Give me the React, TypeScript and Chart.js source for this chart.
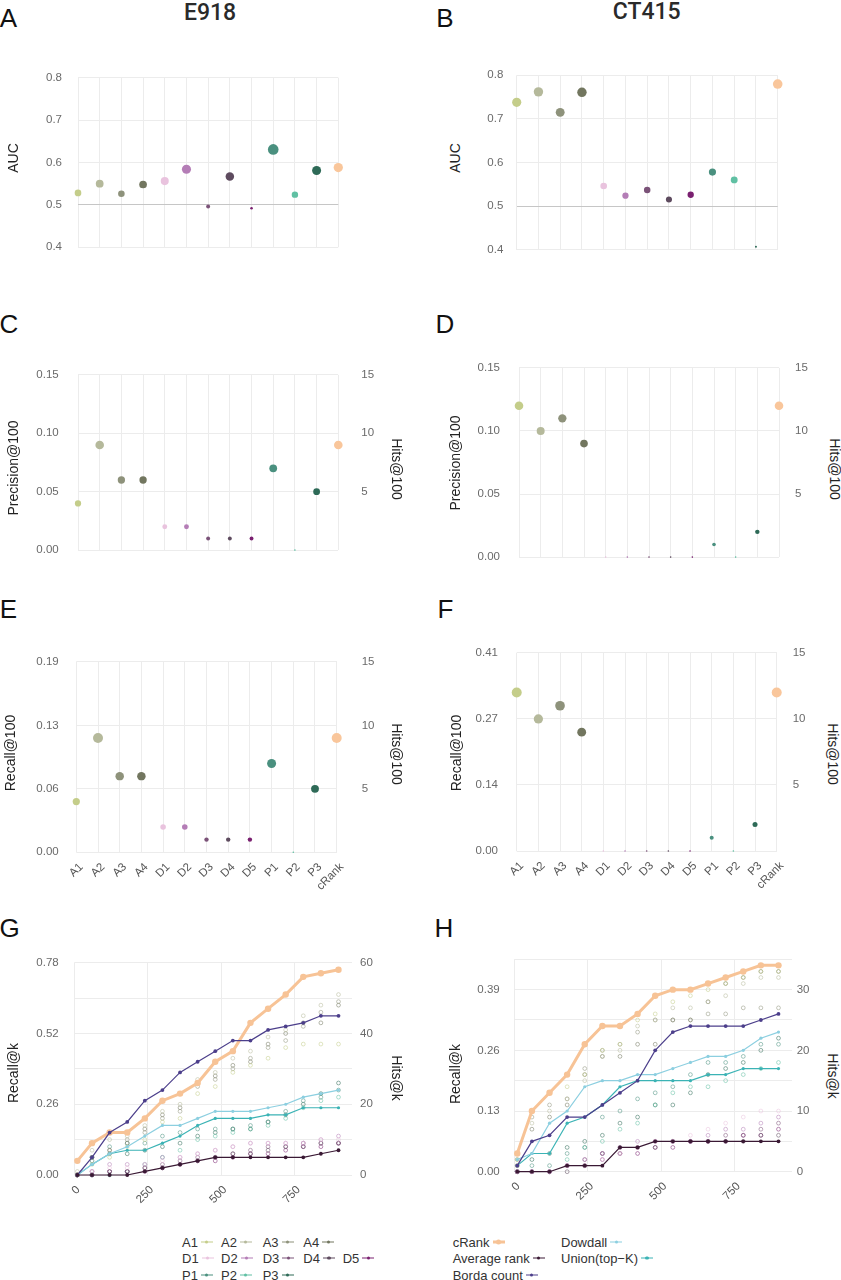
import React, { useEffect, useRef } from 'react';
import { Chart, registerables } from 'chart.js';

Chart.register(...registerables);

const FONT = '"Liberation Sans", Arial, Helvetica, sans-serif';
Chart.defaults.font.family = FONT;

// ---------------- data ----------------
const METHODS = ['A1', 'A2', 'A3', 'A4', 'D1', 'D2', 'D3', 'D4', 'D5', 'P1', 'P2', 'P3', 'cRank'];
const METHOD_COLORS = ['#c4cd8a', '#b5b99b', '#8e927b', '#72765f', '#e9c3de', '#b47db6', '#7b5278', '#5e4b5f', '#7a2070', '#4a907f', '#60c0a3', '#2e6a57', '#f9c69b'];

const AUC_E918 = [0.528, 0.55, 0.526, 0.548, 0.556, 0.584, 0.496, 0.567, 0.492, 0.631, 0.524, 0.581, 0.588];
const AUC_CT415 = [0.738, 0.762, 0.715, 0.761, 0.546, 0.524, 0.537, 0.515, 0.526, 0.578, 0.56, 0.407, 0.78];
const HITS100_E918 = [4, 9, 6, 6, 2, 2, 1, 1, 1, 7, 0, 5, 9];
const HITS100_CT415 = [12, 10, 11, 9, 0, 0, 0, 0, 0, 1, 0, 2, 12];

const AUC_TICKS = [0.4, 0.5, 0.6, 0.7, 0.8];
const AUC_REFERENCE = 0.5;
const HITS100_TICKS = [0, 5, 10, 15];
const PRECISION_TICK_LABELS = ['0.00', '0.05', '0.10', '0.15'];
const RECALL100_TICK_LABELS_E918 = ['0.00', '0.06', '0.13', '0.19'];
const RECALL100_TICK_LABELS_CT415 = ['0.00', '0.14', '0.27', '0.41'];

const K_VALUES = [10, 60, 120, 180, 240, 300, 360, 420, 480, 540, 600, 660, 720, 780, 840, 900];
const K_TICKS = [0, 250, 500, 750];
const K_AXIS_MAX = 945;
const HITSK_TICKS_E918 = [0, 20, 40, 60];
const RECALLK_TICK_LABELS_E918 = ['0.00', '0.26', '0.52', '0.78'];
const HITSK_TICKS_CT415 = [0, 10, 20, 30];
const RECALLK_TICK_LABELS_CT415 = ['0.00', '0.13', '0.26', '0.39'];

// aggregation methods, hits@k  (E918)
const E918_CRANK = [4, 9, 12, 12, 16, 21, 23, 26, 32, 35, 43, 47, 51, 56, 57, 58];
const E918_AVERAGE = [0, 0, 0, 0, 1, 2, 3, 4, 5, 5, 5, 5, 5, 5, 6, 7];
const E918_BORDA = [0, 5, 12, 15, 21, 24, 29, 32, 35, 38, 38, 41, 42, 43, 45, 45];
const E918_DOWDALL = [0, 3, 6, 8, 11, 14, 14, 16, 18, 18, 18, 19, 20, 22, 23, 24];
const E918_UNION = [0, 3, 6, 7, 7, 9, 11, 14, 16, 16, 16, 17, 17, 19, 19, 19];
// individual methods, hits@k (E918)
const E918_A1 = [0, 3, 5, 8, 10, 15, 16, 23, 25, 29, 31, 33, 36, 37, 37, 37];
const E918_A2 = [1, 7, 10, 11, 14, 18, 20, 27, 29, 33, 35, 39, 41, 45, 48, 51];
const E918_A3 = [0, 5, 7, 10, 12, 16, 18, 25, 27, 30, 33, 36, 38, 42, 46, 49];
const E918_A4 = [0, 5, 7, 9, 13, 17, 19, 26, 28, 31, 32, 37, 40, 43, 43, 48];
const E918_D1 = [0, 1, 2, 2, 3, 4, 5, 6, 7, 8, 9, 9, 9, 9, 10, 10];
const E918_D2 = [0, 1, 3, 3, 3, 5, 5, 6, 7, 8, 9, 9, 9, 9, 10, 11];
const E918_D3 = [0, 1, 1, 1, 2, 3, 4, 5, 5, 6, 7, 8, 8, 9, 9, 9];
const E918_D4 = [0, 0, 1, 1, 2, 2, 3, 4, 5, 6, 6, 7, 8, 8, 9, 9];
const E918_D5 = [0, 0, 1, 1, 1, 2, 3, 4, 4, 5, 6, 6, 7, 8, 8, 9];
const E918_P1 = [0, 5, 8, 9, 9, 11, 12, 13, 13, 13, 14, 15, 18, 21, 22, 24];
const E918_P2 = [0, 0, 0, 1, 3, 5, 7, 10, 11, 12, 13, 14, 16, 19, 21, 22];
const E918_P3 = [0, 4, 6, 6, 7, 8, 9, 11, 12, 13, 13, 15, 17, 20, 23, 26];

// aggregation methods, hits@k  (CT415)
const CT415_CRANK = [3, 10, 13, 16, 21, 24, 24, 26, 29, 30, 30, 31, 32, 33, 34, 34];
const CT415_AVERAGE = [0, 0, 0, 1, 1, 1, 4, 4, 5, 5, 5, 5, 5, 5, 5, 5];
const CT415_BORDA = [1, 5, 6, 9, 9, 11, 13, 15, 20, 23, 24, 24, 24, 24, 25, 26];
const CT415_DOWDALL = [2, 3, 8, 10, 14, 15, 15, 16, 16, 17, 18, 19, 19, 20, 22, 23];
const CT415_UNION = [1, 3, 3, 8, 9, 11, 14, 15, 15, 15, 15, 16, 16, 17, 17, 17];
// individual methods, hits@k (CT415)
const CT415_A1 = [2, 10, 13, 14, 16, 20, 21, 25, 26, 28, 29, 30, 31, 32, 33, 33];
const CT415_A2 = [1, 8, 10, 12, 15, 19, 20, 24, 25, 27, 27, 28, 29, 31, 32, 32];
const CT415_A3 = [2, 9, 11, 12, 17, 20, 21, 23, 25, 25, 25, 26, 26, 27, 27, 27];
const CT415_A4 = [1, 7, 9, 11, 16, 19, 19, 21, 21, 25, 25, 28, 31, 32, 33, 33];
const CT415_D1 = [0, 0, 0, 1, 1, 2, 3, 4, 5, 5, 6, 7, 8, 9, 10, 10];
const CT415_D2 = [0, 0, 0, 1, 2, 3, 4, 5, 5, 5, 5, 6, 7, 7, 8, 9];
const CT415_D3 = [0, 0, 0, 1, 2, 3, 3, 4, 5, 5, 5, 5, 6, 6, 7, 8];
const CT415_D4 = [0, 0, 0, 0, 1, 3, 4, 4, 4, 5, 5, 5, 5, 5, 6, 6];
const CT415_D5 = [0, 0, 0, 1, 1, 2, 3, 3, 4, 4, 5, 5, 5, 6, 6, 7];
const CT415_P1 = [0, 1, 1, 3, 4, 9, 10, 12, 13, 14, 16, 18, 18, 19, 21, 21];
const CT415_P2 = [0, 0, 0, 2, 4, 5, 7, 8, 11, 13, 14, 14, 15, 16, 17, 18];
const CT415_P3 = [0, 2, 3, 4, 5, 6, 8, 9, 11, 11, 13, 16, 17, 18, 20, 22];

const E918_METHOD_SERIES = [E918_A1, E918_A2, E918_A3, E918_A4, E918_D1, E918_D2, E918_D3, E918_D4, E918_D5, E918_P1, E918_P2, E918_P3];
const CT415_METHOD_SERIES = [CT415_A1, CT415_A2, CT415_A3, CT415_A4, CT415_D1, CT415_D2, CT415_D3, CT415_D4, CT415_D5, CT415_P1, CT415_P2, CT415_P3];

const AGG_NAMES = ['cRank', 'Average rank', 'Borda count', 'Dowdall', 'Union(top\u2212K)'];
const AGG_COLORS = ['#f7c396', '#3a1934', '#4c3f8b', '#8ccfe0', '#3bb3b5'];

// ---------------- styling ----------------
const GRID = '#ececec';
const REF = '#c6c6c6';
const TICK_COLOR = '#6a6a6a';
const TICK_FONT = { family: FONT, size: 11.5 };

type Box = { l: number; t: number; r: number; b: number };
type CBox = { x: number; y: number; w: number; h: number };

function frame(canvas: CBox, plot: Box) {
  return {
    padTop: plot.t - canvas.y,
    leftW: plot.l - canvas.x,
    bottomH: canvas.y + canvas.h - plot.b,
    rightW: canvas.x + canvas.w - plot.r,
  };
}

function sizeByValue(values: number[], rMin: number, rMax: number) {
  const lo = Math.min(...values);
  const hi = Math.max(...values);
  return values.map((v) => rMin + (rMax - rMin) * Math.sqrt((v - lo) / (hi - lo)));
}

function xCategory(f: any, showX: boolean, xPad: number) {
  return {
    type: 'category',
    offset: false,
    grid: { color: GRID, lineWidth: 1, drawTicks: false },
    border: { display: false },
    ticks: showX
      ? { display: true, autoSkip: false, maxRotation: 45, minRotation: 45, padding: xPad, labelOffset: 5, color: '#555', font: { family: FONT, size: 11.5 } }
      : { display: false },
    afterFit: (s: any) => {
      s.height = f.bottomH;
    },
  };
}

function aucConfig(canvas: CBox, plot: Box, values: number[], rMin: number, rMax: number, leftPad: number) {
  const f = frame(canvas, plot);
  const radii = sizeByValue(values, rMin, rMax);
  return {
    type: 'line',
    data: {
      labels: METHODS,
      datasets: [
        {
          data: values,
          showLine: false,
          pointRadius: radii,
          pointHoverRadius: radii,
          pointBackgroundColor: METHOD_COLORS,
          pointBorderWidth: 0,
          clip: false,
        },
      ],
    },
    options: {
      animation: false,
      responsive: true,
      maintainAspectRatio: false,
      events: [],
      layout: { padding: { top: f.padTop, right: f.rightW, left: 0, bottom: 0 } },
      plugins: { legend: { display: false }, tooltip: { enabled: false } },
      scales: {
        x: xCategory(f, false, 0),
        y: {
          type: 'linear',
          position: 'left',
          min: AUC_TICKS[0],
          max: AUC_TICKS[AUC_TICKS.length - 1],
          afterBuildTicks: (s: any) => {
            s.ticks = AUC_TICKS.map((v) => ({ value: v }));
          },
          grid: {
            drawTicks: false,
            color: (c: any) => (c.tick && Math.abs(c.tick.value - AUC_REFERENCE) < 1e-9 ? REF : GRID),
          },
          border: { display: false },
          ticks: { padding: leftPad, color: TICK_COLOR, font: TICK_FONT, callback: (v: any) => Number(v).toFixed(1) },
          afterFit: (s: any) => {
            s.width = f.leftW;
          },
        },
      },
    },
  };
}

function hitsConfig(
  canvas: CBox,
  plot: Box,
  hits: number[],
  leftLabels: string[],
  rMin: number,
  rMax: number,
  leftPad: number,
  rightPad: number,
  showX: boolean,
  xPad: number
) {
  const f = frame(canvas, plot);
  const radii = sizeByValue(hits, rMin, rMax);
  const setTicks = (s: any) => {
    s.ticks = HITS100_TICKS.map((v) => ({ value: v }));
  };
  return {
    type: 'line',
    data: {
      labels: METHODS,
      datasets: [
        {
          data: hits,
          yAxisID: 'yH',
          showLine: false,
          pointRadius: radii,
          pointHoverRadius: radii,
          pointBackgroundColor: METHOD_COLORS,
          pointBorderWidth: 0,
          clip: false,
        },
      ],
    },
    options: {
      animation: false,
      responsive: true,
      maintainAspectRatio: false,
      events: [],
      layout: { padding: { top: f.padTop, right: 0, left: 0, bottom: 0 } },
      plugins: { legend: { display: false }, tooltip: { enabled: false } },
      scales: {
        x: xCategory(f, showX, xPad),
        yL: {
          type: 'linear',
          position: 'left',
          min: HITS100_TICKS[0],
          max: HITS100_TICKS[HITS100_TICKS.length - 1],
          afterBuildTicks: setTicks,
          grid: { display: false },
          border: { display: false },
          ticks: {
            padding: leftPad,
            color: TICK_COLOR,
            font: TICK_FONT,
            callback: (v: any) => leftLabels[HITS100_TICKS.indexOf(Number(v))] ?? '',
          },
          afterFit: (s: any) => {
            s.width = f.leftW;
          },
        },
        yH: {
          type: 'linear',
          position: 'right',
          min: HITS100_TICKS[0],
          max: HITS100_TICKS[HITS100_TICKS.length - 1],
          afterBuildTicks: setTicks,
          grid: { color: GRID, drawTicks: false },
          border: { display: false },
          ticks: {
            padding: rightPad,
            color: TICK_COLOR,
            font: TICK_FONT,
            callback: (v: any) => (Number(v) === 0 ? '' : String(v)),
          },
          afterFit: (s: any) => {
            s.width = f.rightW;
          },
        },
      },
    },
  };
}

function withAlpha(hex: string, a: number) {
  const n = parseInt(hex.slice(1), 16);
  return `rgba(${(n >> 16) & 255},${(n >> 8) & 255},${n & 255},${a})`;
}

function kConfig(
  canvas: CBox,
  plot: Box,
  agg: number[][],
  methods: number[][],
  hitsTicks: number[],
  leftLabels: string[],
  hitsMax: number,
  gridStep: number,
  leftPad: number,
  rightPad: number,
  xPad: number
) {
  const f = frame(canvas, plot);
  const pts = (arr: number[]) => K_VALUES.map((k, i) => ({ x: k, y: arr[i] }));
  const aggOrder = [1, 2, 3, 4, 0];
  const aggSets = aggOrder.map((idx) => {
    const isC = idx === 0;
    return {
      label: AGG_NAMES[idx],
      data: pts(agg[idx]),
      yAxisID: 'yH',
      borderColor: AGG_COLORS[idx],
      backgroundColor: AGG_COLORS[idx],
      borderWidth: isC ? 3 : 1.2,
      pointRadius: isC ? 3.2 : idx === 3 || idx === 4 ? 1.6 : 1.9,
      pointBackgroundColor: AGG_COLORS[idx],
      pointBorderWidth: 0,
      tension: 0,
      clip: false,
    };
  });
  const methodSets = methods.map((arr, i) => ({
    label: METHODS[i],
    data: pts(arr),
    yAxisID: 'yH',
    showLine: false,
    pointRadius: 1.9,
    pointBackgroundColor: 'rgba(255,255,255,0)',
    pointBorderColor: withAlpha(METHOD_COLORS[i], 0.65),
    pointBorderWidth: 0.8,
    clip: false,
  }));
  return {
    type: 'line',
    data: { datasets: [...aggSets, ...methodSets] },
    options: {
      animation: false,
      responsive: true,
      maintainAspectRatio: false,
      events: [],
      layout: { padding: { top: f.padTop, right: 0, left: 0, bottom: 0 } },
      plugins: { legend: { display: false }, tooltip: { enabled: false } },
      scales: {
        x: {
          type: 'linear',
          min: 0,
          max: K_AXIS_MAX,
          afterBuildTicks: (s: any) => {
            s.ticks = K_TICKS.map((v) => ({ value: v }));
          },
          grid: { color: GRID, drawTicks: false },
          border: { display: false },
          ticks: {
            maxRotation: 45,
            minRotation: 45,
            padding: xPad,
            labelOffset: 4,
            color: '#555',
            font: { family: FONT, size: 11.5 },
            callback: (v: any) => String(v),
          },
          afterFit: (s: any) => {
            s.height = f.bottomH;
          },
        },
        yL: {
          type: 'linear',
          position: 'left',
          min: 0,
          max: hitsMax,
          afterBuildTicks: (s: any) => {
            s.ticks = hitsTicks.map((v) => ({ value: v }));
          },
          grid: { display: false },
          border: { display: false },
          ticks: {
            padding: leftPad,
            color: TICK_COLOR,
            font: TICK_FONT,
            callback: (v: any) => leftLabels[hitsTicks.indexOf(Number(v))] ?? '',
          },
          afterFit: (s: any) => {
            s.width = f.leftW;
          },
        },
        yH: {
          type: 'linear',
          position: 'right',
          min: 0,
          max: hitsMax,
          grid: { color: GRID, drawTicks: false },
          border: { display: false },
          ticks: {
            stepSize: gridStep,
            padding: rightPad,
            color: TICK_COLOR,
            font: TICK_FONT,
            callback: (v: any) => (hitsTicks.includes(Number(v)) ? String(v) : ''),
          },
          afterFit: (s: any) => {
            s.width = f.rightW;
          },
        },
      },
    },
  };
}

// ---------------- components ----------------
function ChartBox({ canvas, config }: { canvas: CBox; config: any }) {
  const ref = useRef<HTMLCanvasElement | null>(null);
  useEffect(() => {
    const chart = new Chart(ref.current as HTMLCanvasElement, config);
    return () => chart.destroy();
  }, []);
  return (
    <div style={{ position: 'absolute', left: canvas.x, top: canvas.y, width: canvas.w, height: canvas.h }}>
      <canvas ref={ref} />
    </div>
  );
}

function Txt({
  x,
  y,
  text,
  size = 14,
  weight = 400,
  color = '#222',
  rotate = 0,
  family = FONT,
}: {
  x: number;
  y: number;
  text: string;
  size?: number;
  weight?: number;
  color?: string;
  rotate?: number;
  family?: string;
}) {
  return (
    <div
      style={{
        position: 'absolute',
        left: x,
        top: y,
        transform: `translate(-50%, -50%) rotate(${rotate}deg)`,
        fontFamily: family,
        fontSize: size,
        fontWeight: weight,
        color,
        lineHeight: 1,
        whiteSpace: 'nowrap',
      }}
    >
      {text}
    </div>
  );
}

function Swatch({ color, thick }: { color: string; thick?: boolean }) {
  const lw = thick ? 3 : 1.4;
  const d = thick ? 5 : 3.2;
  return (
    <span style={{ position: 'relative', display: 'inline-block', width: 12, height: 10, marginLeft: 3, verticalAlign: 'middle' }}>
      <span style={{ position: 'absolute', left: 0, right: 0, top: 5 - lw / 2, height: lw, background: color }} />
      <span style={{ position: 'absolute', left: 6 - d / 2, top: 5 - d / 2, width: d, height: d, borderRadius: '50%', background: color }} />
    </span>
  );
}

function LegendItem({ x, y, text, color, thick }: { x: number; y: number; text: string; color: string; thick?: boolean }) {
  return (
    <div
      style={{
        position: 'absolute',
        left: x,
        top: y,
        transform: 'translateY(-50%)',
        fontFamily: FONT,
        fontSize: 13,
        color: '#333',
        lineHeight: 1,
        whiteSpace: 'nowrap',
        display: 'flex',
        alignItems: 'center',
      }}
    >
      <span>{text}</span>
      <Swatch color={color} thick={thick} />
    </div>
  );
}

// panel geometry
const PA = { canvas: { x: 20, y: 55, w: 340, h: 215 }, plot: { l: 78, t: 70.7, r: 338.3, b: 254 } };
const PB = { canvas: { x: 470, y: 55, w: 330, h: 215 }, plot: { l: 516.7, t: 70, r: 777.7, b: 253.3 } };
const PC = { canvas: { x: 20, y: 345, w: 370, h: 235 }, plot: { l: 78, t: 360, r: 338.3, b: 565.7 } };
const PD = { canvas: { x: 470, y: 345, w: 345, h: 235 }, plot: { l: 519, t: 359, r: 779, b: 565.7 } };
const PE = { canvas: { x: 20, y: 630, w: 370, h: 270 }, plot: { l: 76.3, t: 645.7, r: 336.7, b: 852.3 } };
const PF = { canvas: { x: 470, y: 630, w: 345, h: 270 }, plot: { l: 516.7, t: 645.7, r: 776.7, b: 851 } };
const PG = { canvas: { x: 20, y: 945, w: 370, h: 270 }, plot: { l: 74.4, t: 962.7, r: 351.7, b: 1175 } };
const PH = { canvas: { x: 470, y: 945, w: 345, h: 270 }, plot: { l: 514.3, t: 959.3, r: 791.7, b: 1171.7 } };

export default function App() {
  const cfgA = aucConfig(PA.canvas, PA.plot, AUC_E918, 1.3, 5.3, 16);
  const cfgB = aucConfig(PB.canvas, PB.plot, AUC_CT415, 1.0, 4.8, 13.4);
  const cfgC = hitsConfig(PC.canvas, PC.plot, HITS100_E918, PRECISION_TICK_LABELS, 0.8, 4.3, 11.3, 23, false, 0);
  const cfgD = hitsConfig(PD.canvas, PD.plot, HITS100_CT415, PRECISION_TICK_LABELS, 0.8, 4.3, 11, 16, false, 0);
  const cfgE = hitsConfig(PE.canvas, PE.plot, HITS100_E918, RECALL100_TICK_LABELS_E918, 0.8, 5.0, 9.6, 25, true, 8);
  const cfgF = hitsConfig(PF.canvas, PF.plot, HITS100_CT415, RECALL100_TICK_LABELS_CT415, 0.8, 5.0, 10.7, 16, true, 8);
  const cfgG = kConfig(
    PG.canvas,
    PG.plot,
    [E918_CRANK, E918_AVERAGE, E918_BORDA, E918_DOWDALL, E918_UNION],
    E918_METHOD_SERIES,
    HITSK_TICKS_E918,
    RECALLK_TICK_LABELS_E918,
    60,
    10,
    7.7,
    8.3,
    8
  );
  const cfgH = kConfig(
    PH.canvas,
    PH.plot,
    [CT415_CRANK, CT415_AVERAGE, CT415_BORDA, CT415_DOWDALL, CT415_UNION],
    CT415_METHOD_SERIES,
    HITSK_TICKS_CT415,
    RECALLK_TICK_LABELS_CT415,
    35,
    5,
    6.6,
    5,
    8
  );

  const leftLegendX = [182, 221, 262.7, 303.3, 342.7];
  const rowsY = [1242, 1258.3, 1275];
  const leftLegendRows = [
    [0, 1, 2, 3],
    [4, 5, 6, 7, 8],
    [9, 10, 11],
  ];

  return (
    <div style={{ position: 'absolute', left: 0, top: 0, width: 841, height: 1280, background: '#fff', overflow: 'hidden' }}>
      <Txt x={210} y={11.7} text="E918" size={23} weight={500} color="#2a2a2a" family='Roboto, "Liberation Sans", sans-serif' />
      <Txt x={646.7} y={11.2} text="CT415" size={23} weight={500} color="#2a2a2a" family='Roboto, "Liberation Sans", sans-serif' />

      <Txt x={8.5} y={17.5} text="A" size={26} color="#111" />
      <Txt x={445} y={17.5} text="B" size={26} color="#111" />
      <Txt x={9} y={324} text="C" size={26} color="#111" />
      <Txt x={445} y={324} text="D" size={26} color="#111" />
      <Txt x={8.5} y={609} text="E" size={26} color="#111" />
      <Txt x={445.5} y={609} text="F" size={26} color="#111" />
      <Txt x={9.5} y={927.5} text="G" size={26} color="#111" />
      <Txt x={444} y={927.5} text="H" size={26} color="#111" />

      <ChartBox canvas={PA.canvas} config={cfgA} />
      <ChartBox canvas={PB.canvas} config={cfgB} />
      <ChartBox canvas={PC.canvas} config={cfgC} />
      <ChartBox canvas={PD.canvas} config={cfgD} />
      <ChartBox canvas={PE.canvas} config={cfgE} />
      <ChartBox canvas={PF.canvas} config={cfgF} />
      <ChartBox canvas={PG.canvas} config={cfgG} />
      <ChartBox canvas={PH.canvas} config={cfgH} />

      <Txt x={12.5} y={158} text="AUC" rotate={-90} />
      <Txt x={455} y={158} text="AUC" rotate={-90} />
      <Txt x={13.3} y={468} text="Precision@100" rotate={-90} />
      <Txt x={397} y={469} text="Hits@100" rotate={90} />
      <Txt x={455.3} y={463} text="Precision@100" rotate={-90} />
      <Txt x={835.3} y={469} text="Hits@100" rotate={90} />
      <Txt x={10} y={752.5} text="Recall@100" rotate={-90} />
      <Txt x={397} y={754} text="Hits@100" rotate={90} />
      <Txt x={455.5} y={752.5} text="Recall@100" rotate={-90} />
      <Txt x={833} y={754} text="Hits@100" rotate={90} />
      <Txt x={13.3} y={1073} text="Recall@k" rotate={-90} />
      <Txt x={396.5} y={1077.5} text="Hits@k" rotate={90} />
      <Txt x={455} y={1074} text="Recall@k" rotate={-90} />
      <Txt x={833.3} y={1075.5} text="Hits@k" rotate={90} />

      {leftLegendRows.map((row, r) =>
        row.map((mi, c) => (
          <LegendItem key={`l${mi}`} x={leftLegendX[c]} y={rowsY[r]} text={METHODS[mi]} color={METHOD_COLORS[mi]} />
        ))
      )}
      <LegendItem x={452.7} y={rowsY[0]} text={AGG_NAMES[0]} color={AGG_COLORS[0]} thick />
      <LegendItem x={452.7} y={rowsY[1]} text={AGG_NAMES[1]} color={AGG_COLORS[1]} />
      <LegendItem x={452.7} y={rowsY[2]} text={AGG_NAMES[2]} color={AGG_COLORS[2]} />
      <LegendItem x={561} y={rowsY[0]} text={AGG_NAMES[3]} color={AGG_COLORS[3]} />
      <LegendItem x={561} y={rowsY[1]} text={AGG_NAMES[4]} color={AGG_COLORS[4]} />
    </div>
  );
}
